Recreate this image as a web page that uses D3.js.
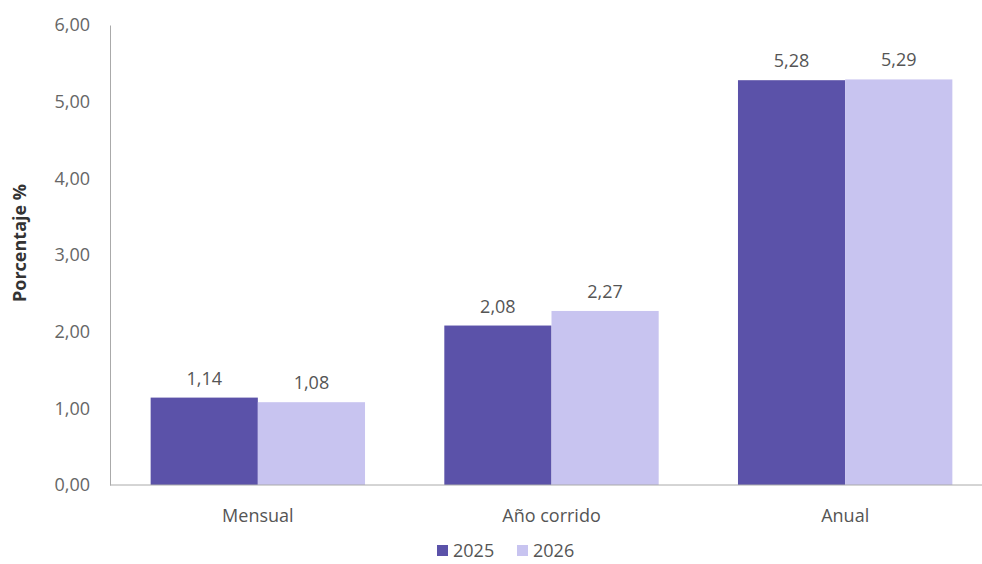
<!DOCTYPE html>
<html>
<head>
<meta charset="utf-8">
<script src="https://cdn.jsdelivr.net/npm/d3@7"></script>
<style>
  body { margin: 0; background: #fff; }
  text { font-family: "Open Sans", sans-serif; }
</style>
</head>
<body>
<div id="chart"></div>
<script>
// data
const categories = ["Mensual", "Año corrido", "Anual"];
const seriesNames = ["2025", "2026"];
const values2025 = [1.14, 2.08, 5.28];
const values2026 = [1.08, 2.27, 5.29];
const yTicks = [0, 1, 2, 3, 4, 5, 6];

const color = ["#5b52a9", "#c8c4f0"];

const width = 982, height = 564;

const svg = d3.select("#chart")
    .append("svg")
    .attr("width", width)
    .attr("height", height);

const rows = categories.map((c, i) => ({cat: c, vals: [values2025[i], values2026[i]]}));

// scales
const x = d3.scaleBand()
    .domain(categories)
    .range([111, 992])
    .paddingInner(0.27)
    .paddingOuter(0.135);

const xSub = d3.scaleBand()
    .domain(seriesNames)
    .range([0, x.bandwidth()]);

const y = d3.scaleLinear()
    .domain([0, 6])
    .range([485, 25]);

const fmt = v => d3.format(".2f")(v).replace(".", ",");

// bars
const groups = svg.append("g")
    .selectAll("g")
    .data(rows)
    .enter()
    .append("g")
    .attr("transform", d => "translate(" + x(d.cat) + ",0)");

groups.selectAll("rect")
    .data(d => d.vals.map((v, i) => ({key: seriesNames[i], v: v, i: i})))
    .enter()
    .append("rect")
    .attr("x", d => xSub(d.key))
    .attr("y", d => y(d.v))
    .attr("width", xSub.bandwidth())
    .attr("height", d => y(0) - y(d.v))
    .attr("fill", d => color[d.i]);

groups.selectAll("text.val")
    .data(d => d.vals.map((v, i) => ({key: seriesNames[i], v: v})))
    .enter()
    .append("text")
    .attr("class", "val")
    .attr("x", d => xSub(d.key) + xSub.bandwidth() / 2)
    .attr("y", d => y(d.v) - 13)
    .attr("text-anchor", "middle")
    .attr("font-size", 18)
    .attr("fill", "#555")
    .text(d => fmt(d.v));

// axes
const yAxis = svg.append("g")
    .attr("transform", "translate(110,0)")
    .call(d3.axisLeft(y).tickValues(yTicks).tickFormat(fmt).tickSize(0).tickPadding(20));
yAxis.select(".domain").attr("stroke", "#aaa");
yAxis.selectAll("text").attr("font-size", 18).attr("fill", "#666").attr("font-family", "Open Sans, sans-serif");

const xAxis = svg.append("g")
    .attr("transform", "translate(0,485)")
    .call(d3.axisBottom(x).tickSize(0).tickPadding(24));
xAxis.select(".domain").attr("d", "M110,0H982").attr("stroke", "#aaa");
xAxis.selectAll("text").attr("font-size", 18).attr("fill", "#555").attr("font-family", "Open Sans, sans-serif");

// y label
svg.append("text")
    .attr("transform", "translate(26,243) rotate(-90)")
    .attr("text-anchor", "middle")
    .attr("font-size", 18)
    .attr("font-weight", "bold")
    .attr("fill", "#333")
    .text("Porcentaje %");

// legend
const legend = svg.append("g")
    .selectAll("g")
    .data(seriesNames)
    .enter()
    .append("g")
    .attr("transform", (d, i) => "translate(" + (437 + i * 80) + ",545)");
legend.append("rect")
    .attr("width", 11).attr("height", 11)
    .attr("fill", (d, i) => color[i]);
legend.append("text")
    .attr("x", 16).attr("y", 12)
    .attr("font-size", 18)
    .attr("fill", "#555")
    .text(d => d);
</script>
</body>
</html>
